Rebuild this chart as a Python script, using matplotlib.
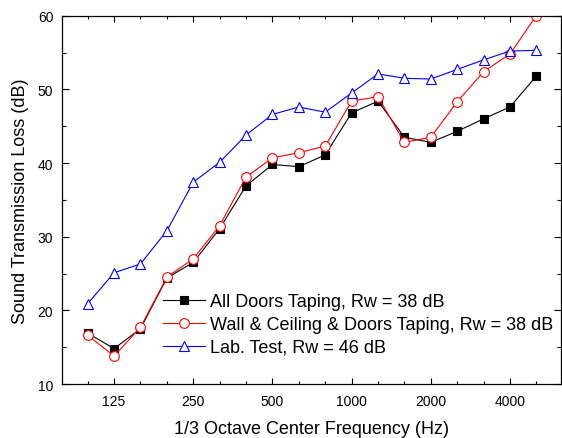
import numpy as np
import matplotlib
matplotlib.use("Agg")
import matplotlib.pyplot as plt

freqs = [100, 125, 160, 200, 250, 315, 400, 500, 630, 800, 1000, 1250,
         1600, 2000, 2500, 3150, 4000, 5000]
labeled = [125, 250, 500, 1000, 2000, 4000]

all_doors = [16.9, 14.8, 17.5, 24.4, 26.5, 31.1, 36.9, 39.8, 39.5, 41.1,
             46.8, 48.4, 43.5, 42.8, 44.3, 46.0, 47.6, 51.8]
wall_ceiling = [16.6, 13.8, 17.7, 24.5, 27.0, 31.5, 38.1, 40.7, 41.4, 42.3,
                48.4, 49.0, 42.8, 43.5, 48.3, 52.4, 54.8, 60.0]
lab_test = [20.9, 25.1, 26.3, 30.8, 37.4, 40.1, 43.8, 46.6, 47.6, 46.9,
            49.5, 52.1, 51.5, 51.4, 52.7, 54.0, 55.2, 55.3]

labels = ["All Doors Taping, Rw = 38 dB",
          "Wall & Ceiling & Doors Taping, Rw = 38 dB",
          "Lab. Test, Rw = 46 dB"]

plt.rcParams['font.family'] = ['Liberation Sans', 'DejaVu Sans']

fig = plt.figure(figsize=(5.62, 4.39), dpi=100)
ax = fig.add_axes([0.1098, 0.123, 0.998 - 0.1098, 0.962 - 0.123])

x = np.arange(len(freqs))
ax.plot(x, all_doors, color='black', lw=0.8, marker='s', ms=6,
        mfc='black', mec='black', mew=0.8, label=labels[0])
ax.plot(x, wall_ceiling, color='red', lw=0.8, marker='o', ms=7,
        mfc='white', mec='red', mew=0.8, label=labels[1])
ax.plot(x, lab_test, color='blue', lw=0.8, marker='^', ms=7.5,
        mfc='white', mec='blue', mew=0.8, label=labels[2])

ax.set_xlim(-0.985, 17.93)
ax.set_ylim(10, 60)
ax.set_xticks([i for i, f in enumerate(freqs) if f in labeled])
ax.set_xticklabels([str(f) for f in freqs if f in labeled])
ax.set_xticks(x, minor=True)
ax.set_yticks(np.arange(10, 61, 10))
ax.set_yticks(np.arange(10, 61, 5), minor=True)

ax.tick_params(which='both', direction='in', top=True, right=True,
               width=0.8, labelsize=10)
ax.tick_params(axis='x', which='major', length=4.5, pad=7.5)
ax.tick_params(axis='x', which='minor', length=2.5)
ax.tick_params(axis='y', which='major', length=5, pad=6)
ax.tick_params(axis='y', which='minor', length=3)
for s in ax.spines.values():
    s.set_linewidth(0.9)

ax.set_xlabel("1/3 Octave Center Frequency (Hz)", fontsize=13, labelpad=8)
ax.set_ylabel("Sound Transmission Loss (dB)", fontsize=13, labelpad=6)

ax.legend(loc='upper left', bbox_to_anchor=(163 / 562, 1 - 294 / 439),
          bbox_transform=fig.transFigure, frameon=False, fontsize=13,
          borderpad=0, borderaxespad=0, handlelength=2.3, handletextpad=0.28,
          labelspacing=0.33)

fig.savefig("out.png", dpi=100)
